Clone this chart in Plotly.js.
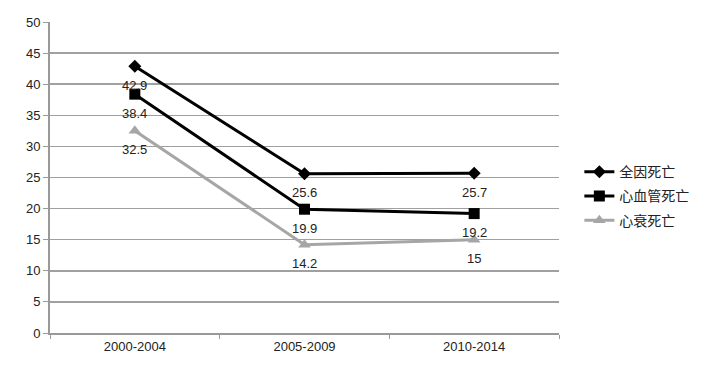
<!DOCTYPE html>
<html>
<head>
<meta charset="utf-8">
<script src="https://cdn.plot.ly/plotly-3.0.1.min.js"></script>
<style>html,body{margin:0;padding:0;background:#fff;}#chart{width:716px;height:372px;}</style>
</head>
<body>
<div id="chart"></div>
<script>
const categories = ["2000-2004", "2005-2009", "2010-2014"];
const seriesNames = ["全因死亡", "心血管死亡", "心衰死亡"];
const allCause = [42.9, 25.6, 25.7];
const cardiovascular = [38.4, 19.9, 19.2];
const heartFailure = [32.5, 14.2, 15];
const yTicks = [0, 5, 10, 15, 20, 25, 30, 35, 40, 45, 50];

const font = "Liberation Sans, Arial, sans-serif";
const seriesList = [
  {name: seriesNames[0], y: allCause, color: "#000000", symbol: "diamond", size: 10},
  {name: seriesNames[1], y: cardiovascular, color: "#000000", symbol: "square", size: 11},
  {name: seriesNames[2], y: heartFailure, color: "#a6a6a6", symbol: "triangle-up", size: 11}
];
const data = seriesList.map((s, i) => ({
  x: categories, y: s.y, name: s.name, type: "scatter", mode: "lines+markers",
  legendgroup: "g" + i,
  line: {color: s.color, width: 3},
  marker: {symbol: s.symbol, size: s.size, color: s.color},
  cliponaxis: false
}));
const annotations = [];
seriesList.forEach(s => s.y.forEach((v, j) => annotations.push({
  x: categories[j], y: v, xref: "x", yref: "y", text: String(v), showarrow: false,
  yshift: -19, yanchor: "middle", font: {family: font, size: 13, color: "#222"}
})));
const layout = {
  width: 716, height: 372,
  margin: {l: 50, r: 157, t: 22, b: 39},
  paper_bgcolor: "#fff", plot_bgcolor: "#fff",
  font: {family: font, size: 13, color: "#222"},
  showlegend: true,
  annotations: annotations,
  legend: {x: 1.04, xanchor: "left", y: 0.44, yanchor: "middle",
    font: {family: "Noto Sans CJK SC, sans-serif", size: 14, color: "#222"},
    itemwidth: 30, tracegroupgap: 3, traceorder: "grouped"},
  xaxis: {type: "category", range: [-0.5, 2.5], tickson: "boundaries",
    ticks: "outside", ticklen: 4, tickcolor: "#999", showline: true, linecolor: "#999", linewidth: 2,
    showgrid: false, zeroline: false, tickfont: {family: font, size: 13, color: "#222"}},
  yaxis: {range: [0, 50], tickvals: yTicks, ticks: "outside", ticklen: 5, tickcolor: "#999",
    showline: true, linecolor: "#999", linewidth: 2, gridcolor: "#a0a0a0", gridwidth: 1.5,
    zeroline: false, tickfont: {family: font, size: 13, color: "#222"}}
};
Plotly.newPlot("chart", data, layout, {displayModeBar: false, staticPlot: true});
</script>
</body>
</html>
